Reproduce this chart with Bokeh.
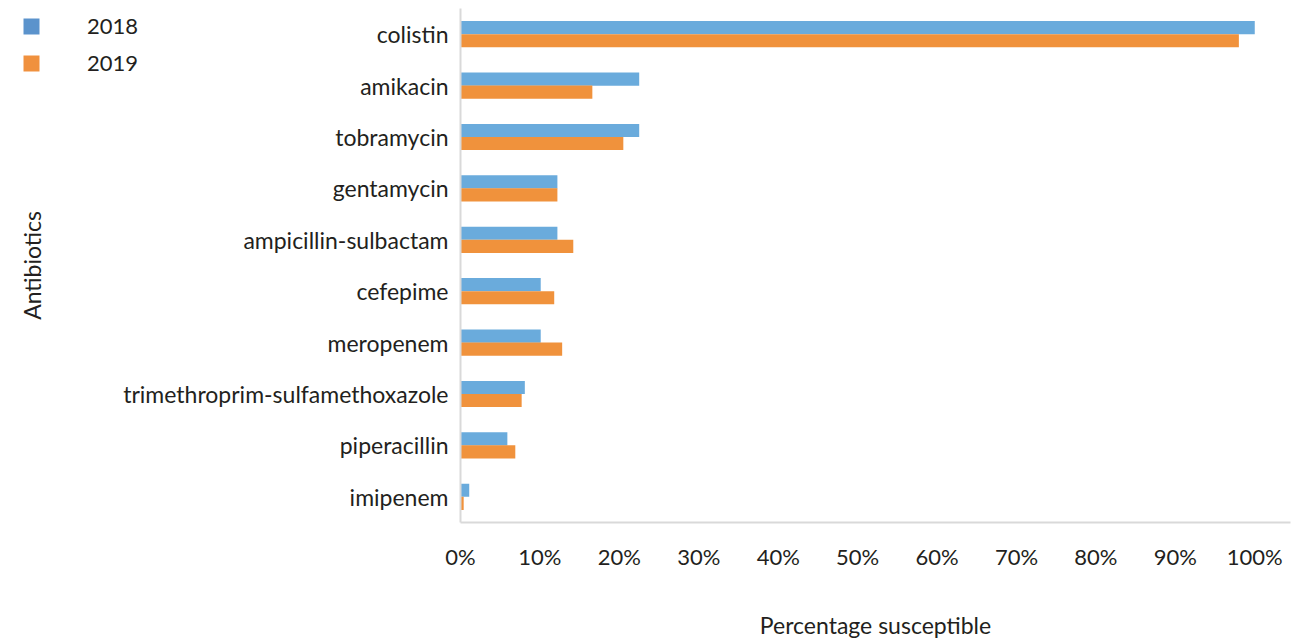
from bokeh.plotting import figure
from bokeh.models import FactorRange, Range1d, Legend, LegendItem, FixedTicker, PrintfTickFormatter
from bokeh.transform import dodge
from bokeh.embed import file_html
from bokeh.resources import INLINE

antibiotics = ["colistin", "amikacin", "tobramycin", "gentamycin", "ampicillin-sulbactam",
               "cefepime", "meropenem", "trimethroprim-sulfamethoxazole", "piperacillin", "imipenem"]
pct_2018 = [100.0, 22.5, 22.5, 12.2, 12.2, 10.1, 10.1, 8.1, 5.9, 1.1]
pct_2019 = [98.0, 16.6, 20.5, 12.2, 14.2, 11.8, 12.8, 7.7, 6.9, 0.4]
years = ["2018", "2019"]
x_ticks = [0, 10, 20, 30, 40, 50, 60, 70, 80, 90, 100]

BLUE = "#6aabdc"
ORANGE = "#f0923c"
LEG_BLUE = "#5b93cc"
LEG_ORANGE = "#f0913e"
TEXT = "#231f20"
FONT = "Lato"

data = dict(cat=antibiotics, y2018=pct_2018, y2019=pct_2019)

p = figure(width=1293, height=641, output_backend="svg", toolbar_location=None,
           y_range=FactorRange(factors=antibiotics[::-1]),
           x_range=Range1d(0, 104.5),
           min_border_left=460, min_border_right=3, min_border_top=8, min_border_bottom=104)
p.outline_line_color = None
p.xgrid.visible = False
p.ygrid.visible = False

p.hbar(y=dodge("cat", 0.127, range=p.y_range), right="y2018", left=0, height=0.255,
       source=data, fill_color=BLUE, line_color=None)
p.hbar(y=dodge("cat", -0.127, range=p.y_range), right="y2019", left=0, height=0.255,
       source=data, fill_color=ORANGE, line_color=None)

for ax in (p.xaxis[0], p.yaxis[0]):
    ax.axis_line_color = "#d9d9d9"
    ax.axis_line_width = 2
    ax.major_tick_line_color = None
    ax.minor_tick_line_color = None
    ax.major_label_text_font = FONT
    ax.major_label_text_font_size = "23px"
    ax.major_label_text_color = TEXT
    ax.axis_label_text_font = FONT
    ax.axis_label_text_font_size = "23px"
    ax.axis_label_text_font_style = "normal"
    ax.axis_label_text_color = TEXT

p.xaxis.ticker = FixedTicker(ticks=x_ticks)
p.xaxis.formatter = PrintfTickFormatter(format="%d%%")
p.xaxis.major_label_text_font_size = "22px"
p.xaxis.major_label_standoff = 14
p.xaxis.axis_label = "Percentage susceptible"
p.xaxis.axis_label_standoff = 38

p.yaxis.major_label_standoff = 6
p.yaxis.axis_label = "Antibiotics"
p.yaxis.axis_label_standoff = 74

# legend: small transparent figure laid over the top-left corner of the page
lf = figure(width=134, height=74, output_backend="svg", toolbar_location=None,
            x_axis_location=None, y_axis_location=None,
            min_border_left=0, min_border_right=0, min_border_top=0, min_border_bottom=0,
            x_range=Range1d(0, 1), y_range=Range1d(0, 1))
lf.outline_line_color = None
lf.xgrid.visible = False
lf.ygrid.visible = False
lf.background_fill_alpha = 0
lf.border_fill_alpha = 0
lf.styles = {"position": "absolute", "left": "21px", "top": "7px"}
nan = float("nan")
g1 = lf.hbar(y=[nan], right=[nan], left=0, height=0.1, fill_color=LEG_BLUE, line_color=None)
g2 = lf.hbar(y=[nan], right=[nan], left=0, height=0.1, fill_color=LEG_ORANGE, line_color=None)
legend = Legend(items=[LegendItem(label=years[0], renderers=[g1]),
                       LegendItem(label=years[1], renderers=[g2])],
                location="top_left")
legend.glyph_width = 20
legend.glyph_height = 20
legend.label_standoff = 46
legend.label_height = 37
legend.spacing = 0
legend.padding = 0
legend.margin = 0
legend.border_line_color = None
legend.background_fill_alpha = 0
legend.label_text_font = FONT
legend.label_text_font_size = "22px"
legend.label_text_color = TEXT
lf.add_layout(legend, "center")

open("out.html", "w").write(file_html([p, lf], INLINE))
